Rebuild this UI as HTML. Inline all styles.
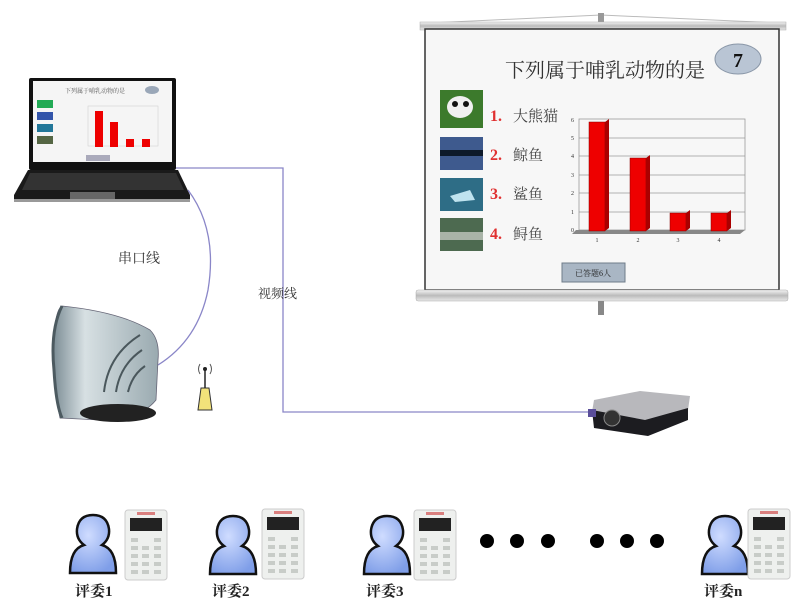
<!DOCTYPE html>
<html><head><meta charset="utf-8"><style>
html,body{margin:0;padding:0;background:#fff;width:800px;height:600px;overflow:hidden}
svg{display:block}
text{font-family:"Liberation Serif","Noto Serif CJK SC",serif}
</style></head><body>
<svg width="800" height="600" viewBox="0 0 800 600" xmlns="http://www.w3.org/2000/svg">
<defs>
<linearGradient id="roll" x1="0" y1="0" x2="0" y2="1"><stop offset="0" stop-color="#f4f4f4"/><stop offset="0.5" stop-color="#bbb"/><stop offset="1" stop-color="#e8e8e8"/></linearGradient>
<linearGradient id="recv" x1="0" y1="0" x2="1" y2="0"><stop offset="0" stop-color="#7d8e96"/><stop offset="0.3" stop-color="#d7e0e3"/><stop offset="1" stop-color="#9aaab0"/></linearGradient>
<radialGradient id="pers" cx="0.4" cy="0.35" r="0.7"><stop offset="0" stop-color="#cfdcff"/><stop offset="1" stop-color="#7f9ee8"/></radialGradient>
<g id="person">
<path d="M2 58 Q2 34 16 30 Q8 24 9 14 Q11 0 25 0 Q39 0 41 14 Q42 24 34 30 Q48 34 48 58 Z" fill="url(#pers)" stroke="#111" stroke-width="2.5"/>
</g>
<g id="clicker">
<rect x="0" y="0" width="42" height="70" rx="3" fill="#eef0ee" stroke="#ccc"/>
<rect x="5" y="8" width="32" height="13" fill="#222"/>
<g fill="#c8ccc8">
<rect x="6" y="28" width="7" height="4"/><rect x="29" y="28" width="7" height="4"/>
<rect x="6" y="36" width="7" height="4"/><rect x="17" y="36" width="7" height="4"/><rect x="29" y="36" width="7" height="4"/>
<rect x="6" y="44" width="7" height="4"/><rect x="17" y="44" width="7" height="4"/><rect x="29" y="44" width="7" height="4"/>
<rect x="6" y="52" width="7" height="4"/><rect x="17" y="52" width="7" height="4"/><rect x="29" y="52" width="7" height="4"/>
<rect x="6" y="60" width="7" height="4"/><rect x="17" y="60" width="7" height="4"/><rect x="29" y="60" width="7" height="4"/>
</g>
<rect x="12" y="2" width="18" height="3" fill="#c33" opacity="0.6"/>
</g>
</defs>

<!-- Projector screen -->
<line x1="430" y1="23" x2="601" y2="15" stroke="#bbb"/>
<line x1="780" y1="23" x2="601" y2="15" stroke="#bbb"/>
<rect x="598" y="13" width="6" height="12" fill="#999"/>
<rect x="420" y="22" width="366" height="8" fill="url(#roll)" stroke="#aaa" stroke-width="0.5"/>
<rect x="425" y="29" width="354" height="261" fill="#f7f7f7" stroke="#333" stroke-width="1.5"/>
<rect x="416" y="290" width="372" height="11" rx="2" fill="url(#roll)" stroke="#aaa" stroke-width="0.5"/>
<rect x="598" y="301" width="6" height="14" fill="#888"/>
<text x="605" y="77" font-size="20" text-anchor="middle" fill="#333">下列属于哺乳动物的是</text>
<ellipse cx="738" cy="59" rx="23" ry="15" fill="#b9c5d4" stroke="#8a97a8"/>
<text x="738" y="67" font-size="20" font-weight="bold" text-anchor="middle" fill="#111" font-family="Liberation Sans">7</text>
<rect x="440" y="90" width="43" height="38" fill="#3c7a2c"/><ellipse cx="460" cy="107" rx="13" ry="11" fill="#f0f0f0"/><circle cx="455" cy="104" r="3" fill="#111"/><circle cx="466" cy="104" r="3" fill="#111"/>
<rect x="440" y="137" width="43" height="33" fill="#3e5a8e"/><rect x="440" y="150" width="43" height="6" fill="#0d1a2a"/>
<rect x="440" y="178" width="43" height="33" fill="#2e6d86"/><path d="M450 196 L470 190 L475 200 L455 202Z" fill="#bfe3ef"/>
<rect x="440" y="218" width="43" height="33" fill="#4d6a50"/><rect x="440" y="232" width="43" height="8" fill="#a9b4a8"/>
<g font-size="16" fill="#e03030" font-weight="bold" font-family="Liberation Sans">
<text x="490" y="121">1.</text><text x="490" y="160">2.</text><text x="490" y="199">3.</text><text x="490" y="239">4.</text></g>
<g font-size="15" fill="#444"><text x="513" y="121">大熊猫</text><text x="513" y="160">鲸鱼</text><text x="513" y="199">鲨鱼</text><text x="513" y="239">鲟鱼</text></g>
<!-- chart -->
<g stroke="#999" stroke-width="0.8" fill="none">
<rect x="579" y="119" width="166" height="111"/>
<line x1="579" y1="138" x2="745" y2="138"/><line x1="579" y1="156" x2="745" y2="156"/><line x1="579" y1="175" x2="745" y2="175"/><line x1="579" y1="193" x2="745" y2="193"/><line x1="579" y1="212" x2="745" y2="212"/>
</g>
<path d="M576 230 L745 230 L740 234 L572 234Z" fill="#888"/>
<g font-size="6" fill="#333" font-family="Liberation Sans" text-anchor="end">
<text x="574" y="232">0</text><text x="574" y="214">1</text><text x="574" y="195">2</text><text x="574" y="177">3</text><text x="574" y="158">4</text><text x="574" y="140">5</text><text x="574" y="122">6</text></g>
<g fill="#ee0000" stroke="#800" stroke-width="0.5">
<rect x="589" y="122" width="16" height="109"/><rect x="630" y="158" width="16" height="73"/><rect x="670" y="213" width="16" height="18"/><rect x="711" y="213" width="16" height="18"/></g>
<g fill="#a00"><path d="M605 122 l4 -3 v109 l-4 3z"/><path d="M646 158 l4 -3 v73 l-4 3z"/><path d="M686 213 l4 -3 v18 l-4 3z"/><path d="M727 213 l4 -3 v18 l-4 3z"/></g>
<g font-size="6" fill="#333" font-family="Liberation Sans" text-anchor="middle"><text x="597" y="242">1</text><text x="638" y="242">2</text><text x="678" y="242">3</text><text x="719" y="242">4</text></g>
<rect x="562" y="263" width="63" height="19" fill="#a9b6c4" stroke="#6f7c8a"/>
<text x="593" y="276" font-size="8" text-anchor="middle" fill="#222">已答题6人</text>

<!-- Laptop -->
<rect x="29" y="78" width="147" height="92" rx="2" fill="#111"/>
<rect x="33" y="81" width="139" height="81" fill="#f5f5f5"/>
<text x="95" y="93" font-size="6" text-anchor="middle" fill="#555">下列属于哺乳动物的是</text>
<ellipse cx="152" cy="90" rx="7" ry="4" fill="#9aa7b8"/>
<rect x="37" y="100" width="16" height="8" fill="#2a5"/><rect x="37" y="112" width="16" height="8" fill="#35a"/><rect x="37" y="124" width="16" height="8" fill="#279"/><rect x="37" y="136" width="16" height="8" fill="#564"/>
<rect x="88" y="106" width="70" height="40" fill="none" stroke="#ccc" stroke-width="0.5"/>
<rect x="95" y="111" width="8" height="36" fill="#e00"/><rect x="110" y="122" width="8" height="25" fill="#e00"/><rect x="126" y="139" width="8" height="8" fill="#e00"/><rect x="142" y="139" width="8" height="8" fill="#e00"/>
<rect x="86" y="155" width="24" height="6" fill="#aab"/>
<path d="M28 170 L178 170 L190 195 L190 202 L14 202 L14 195Z" fill="#1a1a1a"/>
<path d="M30 173 L176 173 L184 190 L22 190Z" fill="#333"/>
<rect x="70" y="192" width="45" height="7" fill="#666"/>
<rect x="14" y="199" width="176" height="3" fill="#999"/>

<!-- cables -->
<path d="M176 168 L283 168 L283 412 L600 412" fill="none" stroke="#8a86c8" stroke-width="1.3"/>
<path d="M188 190 Q218 230 208 290 Q198 340 158 365" fill="none" stroke="#8a86c8" stroke-width="1.3"/>
<text x="118" y="263" font-size="14" fill="#333">串口线</text>
<text x="258" y="298" font-size="13" fill="#333">视频线</text>

<!-- Receiver -->
<path d="M62 306 Q120 312 150 330 Q160 340 158 360 L156 400 Q140 420 100 420 L60 418 Q52 380 54 340 Q55 310 62 306Z" fill="url(#recv)" stroke="#667" stroke-width="0.8"/>
<path d="M62 306 Q50 330 54 370 Q56 405 62 418" fill="none" stroke="#4c5a60" stroke-width="3"/>
<g fill="none" stroke="#4a575c" stroke-width="2">
<path d="M104 392 Q108 355 140 335"/><path d="M116 392 Q120 365 142 350"/><path d="M128 392 Q132 375 145 366"/></g>
<ellipse cx="118" cy="413" rx="38" ry="9" fill="#222"/>
<!-- antenna -->
<path d="M198 410 L201 388 L209 388 L212 410Z" fill="#f2e27a" stroke="#333"/>
<line x1="205" y1="388" x2="205" y2="370" stroke="#222" stroke-width="1.5"/>
<circle cx="205" cy="369" r="2" fill="#222"/>
<path d="M200 364 Q197 369 200 374 M210 364 Q213 369 210 374" stroke="#555" fill="none"/>

<!-- Projector -->
<path d="M594 400 L640 391 L690 396 L688 410 L645 422 L592 412Z" fill="#b8b8bc"/>
<path d="M592 410 L645 420 L688 408 L688 420 L648 436 L594 428Z" fill="#1c1c20"/>
<circle cx="612" cy="418" r="8" fill="#333" stroke="#888"/>
<rect x="588" y="409" width="8" height="8" fill="#5a4e9a"/>

<!-- People -->
<use href="#person" x="68" y="515"/><use href="#clicker" x="125" y="510"/>
<use href="#person" x="208" y="516"/><use href="#clicker" x="262" y="509"/>
<use href="#person" x="362" y="516"/><use href="#clicker" x="414" y="510"/>
<use href="#person" x="700" y="516"/><use href="#clicker" x="748" y="509"/>
<g fill="#000"><circle cx="487" cy="541" r="7"/><circle cx="517" cy="541" r="7"/><circle cx="548" cy="541" r="7"/><circle cx="597" cy="541" r="7"/><circle cx="627" cy="541" r="7"/><circle cx="657" cy="541" r="7"/></g>
<g font-size="15" font-weight="bold" fill="#222">
<text x="75" y="596">评委1</text><text x="212" y="596">评委2</text><text x="366" y="596">评委3</text><text x="704" y="596">评委n</text></g>
</svg>
</body></html>
